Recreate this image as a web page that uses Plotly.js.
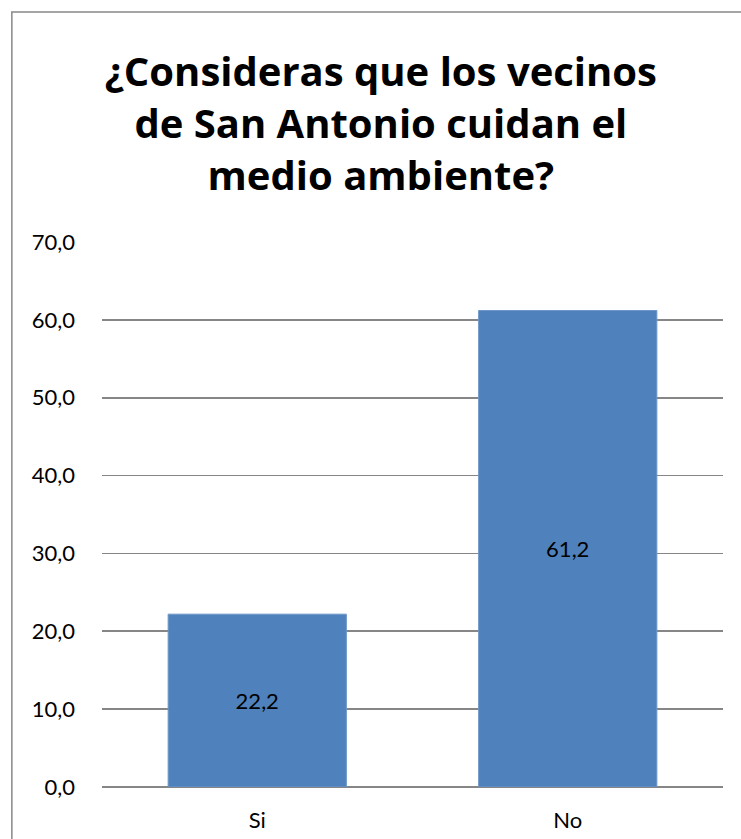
<!DOCTYPE html>
<html><head><meta charset="utf-8">
<script src="https://cdn.plot.ly/plotly-3.0.1.min.js"></script>
<style>html,body{margin:0;padding:0;background:#fff}#c{width:741px;height:839px}</style>
</head><body><div id="c"></div>
<script>
const categories = ["Si", "No"];
const values = [22.2, 61.2];
const titleText = "¿Consideras que los vecinos<br>de San Antonio cuidan el<br>medio ambiente?";
const yTicks = [0, 10, 20, 30, 40, 50, 60, 70];

const font = "Lato, 'Open Sans', sans-serif";
const titleFont = "'Open Sans', Lato, sans-serif";
const trace = {
  type: "bar", x: categories, y: values,
  marker: {color: "#4F81BD", line: {color: "#6E96C8", width: 1}},
  texttemplate: "%{y:.1f}", textposition: "inside", insidetextanchor: "middle",
  textfont: {family: font, size: 22, color: "#000"},
  hoverinfo: "skip"
};
const layout = {
  width: 741, height: 839,
  margin: {l: 102, r: 18, t: 242, b: 52},
  paper_bgcolor: "#fff", plot_bgcolor: "#fff",
  separators: ",.",
  showlegend: false,
  bargap: 0.426,
  title: {text: titleText, x: 0.514, xref: "container", xanchor: "center",
          y: 0.897, yref: "container", yanchor: "middle",
          font: {family: titleFont, size: 40, color: "#000", weight: 700}},
  xaxis: {type: "category", showgrid: false, showline: false, ticks: "",
          tickfont: {family: font, size: 22, color: "#000"}, ticklabelstandoff: 18, zeroline: false},
  yaxis: {range: [0, 70], tickvals: yTicks, tickformat: ".1f", showgrid: true,
          gridcolor: "#868686", gridwidth: 1.6, zeroline: true, zerolinecolor: "#868686", zerolinewidth: 1.6,
          showline: false, ticks: "", tickfont: {family: font, size: 22, color: "#000"}, ticklabelstandoff: 26},
  shapes: [{type: "rect", xref: "paper", yref: "paper",
            x0: (12 - 102) / 620, x1: 1.2, y0: -0.3, y1: 1 + (242 - 12) / 545,
            line: {color: "#888888", width: 1.5}, fillcolor: "rgba(0,0,0,0)", layer: "above"}]
};
Plotly.newPlot("c", [trace], layout, {staticPlot: true, displayModeBar: false});
</script></body></html>
